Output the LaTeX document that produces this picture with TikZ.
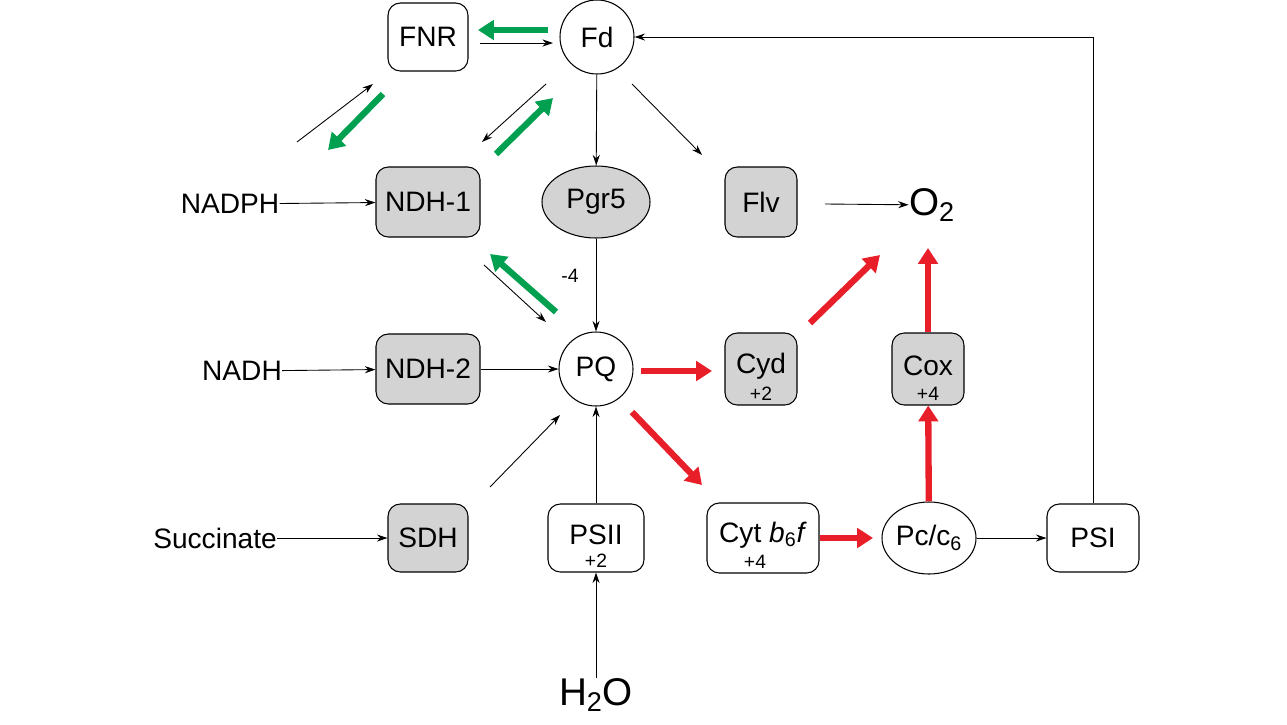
\documentclass[tikz,border=0pt]{standalone}
\usepackage{fontspec}
\setmainfont{Liberation Sans}
\usetikzlibrary{arrows.meta,shapes.geometric}
\definecolor{gfill}{RGB}{211,211,211}
\definecolor{rd}{RGB}{232,30,40}
\definecolor{gn}{RGB}{0,160,80}
\begin{document}
\begin{tikzpicture}[x=0.02cm,y=-0.02cm,
 bx/.style={draw,rounded corners=7pt,line width=0.6pt,minimum width=#1*0.02cm,inner sep=0pt,font=\fontsize{16}{18}\selectfont},
 bx/.default=80,
 circ/.style={draw,circle,minimum size=74*0.02cm,inner sep=0pt,line width=0.6pt,font=\fontsize{16}{18}\selectfont},
 gray/.style={fill=gfill},
 lbl/.style={font=\fontsize{16}{18}\selectfont,inner sep=0pt},
 thin/.style={-{Stealth[length=6pt,width=4pt]},line width=0.5pt},
 thick/.style={-{Triangle[length=9pt,width=11pt]},line width=3.6pt,#1},
 sub/.style={font=\fontsize{11}{12}\selectfont,inner sep=0pt}]
\useasboundingbox (0,0) rectangle (1287,724);
\node[bx=80,minimum height=68*0.02cm] (FNR) at (428,37) {FNR};
\node[circ] (Fd) at (597,37) {Fd};
\node[bx=104,gray,minimum height=70*0.02cm] (NDH1) at (428,202) {NDH-1};
\node[draw,ellipse,gray,minimum width=108*0.02cm,minimum height=72*0.02cm,line width=0.6pt,font=\fontsize{16}{18}\selectfont] (Pgr5) at (596,202) {Pgr5};
\node[bx=72,gray,minimum height=70*0.02cm] (Flv) at (761,202) {Flv};
\node[lbl,font=\fontsize{22}{24}\selectfont] (O2) at (932,205) {O\textsubscript{2}};
\node[lbl] (NADPH) at (230,204) {NADPH};
\node[bx=104,gray,minimum height=70*0.02cm] (NDH2) at (428,369) {NDH-2};
\node[circ] (PQ) at (596,369) {PQ};
\node[bx=72,gray,minimum height=72*0.02cm] (Cyd) at (761,369) {};
\node[lbl] at (761,366) {Cyd};
\node[sub] at (761,394) {+2};
\node[bx=72,gray,minimum height=72*0.02cm] (Cox) at (928,369) {};
\node[lbl] at (928,366) {Cox};
\node[sub] at (928,394) {+4};
\node[lbl] (NADH) at (242,371) {NADH};
\node[lbl] (Succ) at (215,538) {Succinate};
\node[bx=80,gray,minimum height=68*0.02cm] (SDH) at (428,538) {SDH};
\node[bx=96,minimum height=68*0.02cm] (PSII) at (596,538) {};
\node[lbl] at (596,535) {PSII};
\node[sub] at (596,561) {+2};
\node[bx=112,minimum height=70*0.02cm] (Cyt) at (763,538) {};
\node[lbl] at (763,535) {Cyt \textit{b}\textsubscript{6}\textit{f}};
\node[sub] at (755,562) {+4};
\node[draw,ellipse,minimum width=92*0.02cm,minimum height=72*0.02cm,line width=0.6pt,font=\fontsize{16}{18}\selectfont,inner sep=0pt] (Pc) at (929,538) {Pc/c\textsubscript{6}};
\node[bx=92,minimum height=68*0.02cm] (PSI) at (1093,538) {PSI};
\node[lbl,font=\fontsize{22}{24}\selectfont] (H2O) at (596,695) {H\textsubscript{2}O};
\node[sub] (m4) at (570,276) {-4};
% thin arrows
\draw[thin] (480,43) -- (553,43);
\draw[thin] (297,142) -- (373,84);
\draw[thin] (546,84) -- (482,142);
\draw[thin] (Fd) -- (Pgr5);
\draw[thin] (632,84) -- (702,155);
\draw[thin] (NADPH) -- (NDH1);
\draw[thin] (825,204) -- (O2);
\draw[thin] (Pgr5) -- (PQ);
\draw[thin] (484,265) -- (546,322);
\draw[thin] (NADH) -- (NDH2);
\draw[thin] (NDH2) -- (PQ);
\draw[thin] (490,487) -- (560,415);
\draw[thin] (PSII) -- (PQ);
\draw[thin] (H2O) -- (PSII);
\draw[thin] (Succ) -- (SDH);
\draw[thin] (Pc) -- (PSI);
\draw[thin] (PSI.north) |- (Fd.east);
% green
\draw[thick=gn] (548,30) -- (478,30);
\draw[thick=gn] (383,94) -- (328,150);
\draw[thick=gn] (496,154) -- (553,98);
\draw[thick=gn] (556,312) -- (490,254);
% red
\draw[thick=rd] (641,371) -- (712,371);
\draw[thick=rd] (810,323) -- (880,255);
\draw[thick=rd] (Cox) -- (928,248);
\draw[thick=rd] (632,412) -- (702,485);
\draw[thick=rd] (Cyt) -- (873,538);
\draw[thick=rd] (Pc) -- (Cox);
\end{tikzpicture}
\end{document}
